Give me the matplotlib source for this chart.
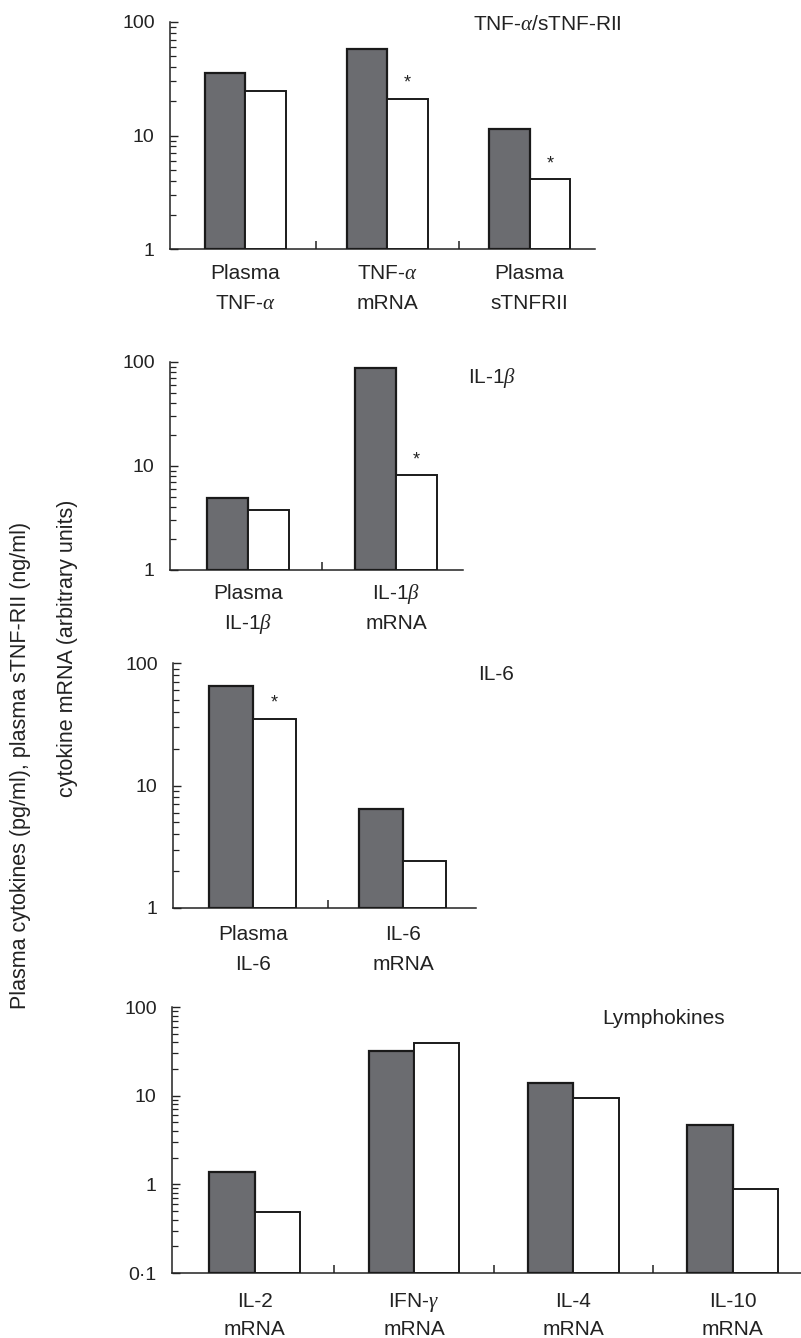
import matplotlib
matplotlib.use("Agg")
import matplotlib.pyplot as plt
from matplotlib.ticker import LogLocator, FixedLocator, NullFormatter, FixedFormatter
import numpy as np

plt.rcParams['font.family'] = ['Liberation Sans', 'DejaVu Sans']
plt.rcParams['mathtext.fontset'] = 'custom'
plt.rcParams['mathtext.rm'] = 'Liberation Sans'
plt.rcParams['mathtext.it'] = 'Liberation Serif:italic'

# ---- data ----
p1_labels = ["Plasma\nTNF-$\\alpha$", "TNF-$\\alpha$\nmRNA", "Plasma\nsTNFRII"]
p1_dark = [35.5, 58, 11.4]
p1_white = [24.6, 21, 4.1]
p1_star = [False, True, True]

p2_labels = ["Plasma\nIL-1$\\beta$", "IL-1$\\beta$\nmRNA"]
p2_dark = [4.9, 88]
p2_white = [3.8, 8.2]
p2_star = [False, True]

p3_labels = ["Plasma\nIL-6", "IL-6\nmRNA"]
p3_dark = [65, 6.4]
p3_white = [35, 2.4]
p3_star = [True, False]

p4_labels = ["IL-2\nmRNA", "IFN-$\\gamma$\nmRNA", "IL-4\nmRNA", "IL-10\nmRNA"]
p4_dark = [1.39, 31.5, 13.8, 4.7]
p4_white = [0.49, 39, 9.3, 0.89]
p4_star = [False, False, False, False]

titles = ["TNF-$\\alpha$/sTNF-RII", "IL-1$\\beta$", "IL-6", "Lymphokines"]

W, H = 801, 1338
fig = plt.figure(figsize=(W / 100, H / 100), dpi=100)

DARK = "#6b6c70"
INK = "#222222"
PX = 72 / 100  # points per pixel


def rect(l, r, t, b):
    return [l / W, 1 - b / H, (r - l) / W, (b - t) / H]


def panel(box, labels, dark, white, star, ylim, xlim, width, yticks, yticklabels, title, title_xy,
          lab_px=(31, 61)):
    ax = fig.add_axes(rect(*box))
    n = len(labels)
    x = np.arange(n)
    base = ylim[0]
    ax.bar(x - width / 2, np.array(dark) - base, width, bottom=base, color=DARK,
           edgecolor="#1a1a1a", linewidth=1.6, zorder=3)
    ax.bar(x + width / 2, np.array(white) - base, width, bottom=base, color="white",
           edgecolor="#1a1a1a", linewidth=1.4, zorder=3)
    for i in range(n):
        if star[i]:
            ax.annotate("*", (x[i] + width / 2, white[i]), xytext=(0, 5), textcoords="offset points",
                        ha="center", va="bottom", fontsize=13, color=INK)
    ax.set_yscale("log")
    ax.set_ylim(*ylim)
    ax.set_xlim(*xlim)
    ax.yaxis.set_major_locator(FixedLocator(yticks))
    ax.yaxis.set_major_formatter(FixedFormatter(yticklabels))
    ax.yaxis.set_minor_locator(LogLocator(base=10, subs=np.arange(2, 10)))
    ax.yaxis.set_minor_formatter(NullFormatter())
    ax.set_xticks(x)
    ax.set_xticklabels([""] * n)
    # two-line category labels, each line placed on its own baseline
    for i, lab in enumerate(labels):
        for j, line in enumerate(lab.split("\n")):
            ax.annotate(line, (x[i], 0), xycoords=("data", "axes fraction"),
                        xytext=(0, -lab_px[j] * PX), textcoords="offset points",
                        ha="center", va="baseline", fontsize=15, color=INK)
    ax.set_xticks(np.arange(n - 1) + 0.5, minor=True)
    ax.tick_params(axis="x", which="major", length=0)
    ax.tick_params(axis="x", which="minor", direction="in", length=6, width=1.1, color=INK)
    ax.tick_params(axis="y", which="major", direction="in", length=6, width=1.0, pad=11,
                   labelsize=14, color=INK, labelcolor=INK)
    ax.tick_params(axis="y", which="minor", direction="in", length=4, width=0.9, color=INK)
    for s in ["top", "right"]:
        ax.spines[s].set_visible(False)
    for s in ["left", "bottom"]:
        ax.spines[s].set_linewidth(1.1)
        ax.spines[s].set_color(INK)
    fig.text(title_xy[0] / W, 1 - title_xy[1] / H, title, fontsize=15, ha="left", va="center", color=INK)
    return ax


panel((170, 595, 22, 249), p1_labels, p1_dark, p1_white, p1_star, (1, 100), (-0.53, 2.46), 0.285,
      [1, 10, 100], ["1", "10", "100"], titles[0], (473, 25), (30, 60))
panel((170, 463, 362, 570), p2_labels, p2_dark, p2_white, p2_star, (1, 100), (-0.527, 1.453), 0.28,
      [1, 10, 100], ["1", "10", "100"], titles[1], (468, 378), (29, 59))
panel((173, 476, 663, 908), p3_labels, p3_dark, p3_white, p3_star, (1, 100), (-0.533, 1.487), 0.29,
      [1, 10, 100], ["1", "10", "100"], titles[2], (478, 675), (32, 62))
panel((172, 801, 1007, 1273), p4_labels, p4_dark, p4_white, p4_star, (0.1, 100), (-0.52, 3.43), 0.285,
      [0.1, 1, 10, 100], ["0·1", "1", "10", "100"], titles[3], (602, 1018), (34, 62))

fig.text(21 / W, 1 - 765 / H, "Plasma cytokines (pg/ml), plasma sTNF-RII (ng/ml)", rotation=90,
         ha="center", va="center", fontsize=15.5, color=INK)
fig.text(68 / W, 1 - 648 / H, "cytokine mRNA (arbitrary units)", rotation=90,
         ha="center", va="center", fontsize=15.5, color=INK)

fig.savefig("out.png", dpi=100)
